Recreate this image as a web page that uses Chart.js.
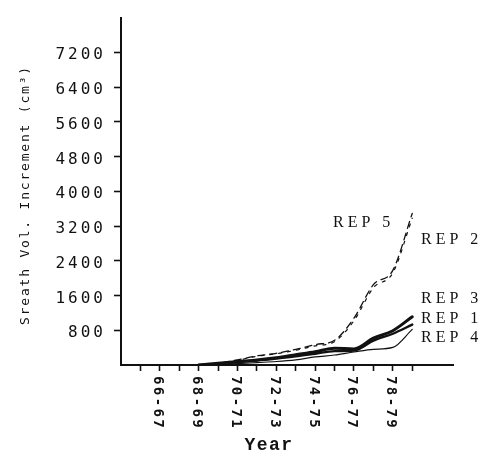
<!DOCTYPE html>
<html>
<head>
<meta charset="utf-8">
<script src="https://cdn.jsdelivr.net/npm/chart.js@4.4.0/dist/chart.umd.min.js"></script>
<style>
  html, body { margin: 0; padding: 0; background: #fff; }
  #wrap { width: 484px; height: 457px; }
</style>
</head>
<body>
<div id="wrap"><canvas id="sheathChart" width="484" height="457"></canvas></div>
<script>
// sheath volume increment per season, season keyed by its first year (68 = 68-69)
var years = [68, 69, 70, 71, 72, 73, 74, 75, 76, 77, 78, 79];
var rep1 = [0, 30, 70, 105, 150, 200, 260, 320, 330, 560, 720, 930];
var rep2 = [0, 35, 110, 200, 260, 340, 440, 540, 1020, 1780, 2120, 3380];
var rep3 = [0, 40, 80, 115, 165, 235, 305, 385, 370, 620, 790, 1110];
var rep4 = [0, 10, 30, 55, 80, 120, 185, 230, 300, 360, 405, 820];
var rep5 = [0, 40, 120, 210, 270, 360, 470, 570, 1080, 1850, 2180, 3490];

var seasons = ['66-67', '68-69', '70-71', '72-73', '74-75', '76-77', '78-79'];
var yTicks = [800, 1600, 2400, 3200, 4000, 4800, 5600, 6400, 7200];

var ink = '#111';

function pts(vals) {
  return years.map(function (yr, i) { return { x: yr, y: vals[i] }; });
}

function seasonOf(v) {
  for (var i = 0; i < seasons.length; i++) {
    if (parseInt(seasons[i], 10) === v) return seasons[i];
  }
  return '';
}

// hand lettering: spaced out tick text, rotated season labels, titles and REP tags
var lettering = {
  id: 'lettering',
  beforeDraw: function (chart) {
    chart.ctx.letterSpacing = '3px';
  },
  afterDraw: function (chart) {
    var ctx = chart.ctx;
    var xs = chart.scales.x;
    ctx.save();
    ctx.fillStyle = ink;

    ctx.font = 'bold 14px "DejaVu Sans Mono"';
    ctx.letterSpacing = '2.4px';
    ctx.textAlign = 'left';
    ctx.textBaseline = 'middle';
    xs.ticks.forEach(function (t) {
      var lab = seasonOf(t.value);
      if (!lab) return;
      ctx.save();
      ctx.translate(xs.getPixelForValue(t.value) - 2, xs.top + 11);
      ctx.rotate(Math.PI / 2);
      ctx.fillText(lab, 0, 0);
      ctx.restore();
    });

    ctx.font = 'bold 18px "Liberation Mono"';
    ctx.letterSpacing = '1.5px';
    ctx.textAlign = 'center';
    ctx.fillText('Year', 269, 445);

    ctx.save();
    ctx.font = '13px "DejaVu Sans Mono"';
    ctx.letterSpacing = '1.8px';
    ctx.translate(26, 195);
    ctx.rotate(-Math.PI / 2);
    ctx.fillText('Sreath Vol. Increment (cm\u00b3)', 0, 0);
    ctx.restore();

    ctx.font = '16px "Liberation Serif"';
    ctx.letterSpacing = '4px';
    ctx.textAlign = 'left';
    ctx.fillText('REP 5', 333, 223);
    ctx.fillText('REP 2', 421, 240);
    ctx.fillText('REP 3', 421, 299);
    ctx.fillText('REP 1', 421, 319);
    ctx.fillText('REP 4', 421, 338);

    ctx.restore();
    ctx.letterSpacing = '0px';
  }
};

new Chart(document.getElementById('sheathChart'), {
  type: 'line',
  data: {
    datasets: [
      { label: 'REP 4', data: pts(rep4), borderWidth: 1.2 },
      { label: 'REP 1', data: pts(rep1), borderWidth: 2.4 },
      { label: 'REP 3', data: pts(rep3), borderWidth: 3 },
      { label: 'REP 2', data: pts(rep2), borderWidth: 1.2, borderDash: [3, 6] },
      { label: 'REP 5', data: pts(rep5), borderWidth: 1.3, borderDash: [7, 5] }
    ]
  },
  options: {
    responsive: false,
    animation: false,
    devicePixelRatio: 1,
    layout: { padding: { top: 5, right: 31, left: 0, bottom: 0 } },
    plugins: { legend: { display: false }, tooltip: { enabled: false } },
    elements: {
      point: { radius: 0 },
      line: { borderColor: ink, fill: false, cubicInterpolationMode: 'monotone', borderCapStyle: 'round' }
    },
    scales: {
      x: {
        type: 'linear',
        min: 64,
        max: 81.1,
        border: { display: true, color: ink, width: 2 },
        grid: { drawOnChartArea: false, drawTicks: true, tickLength: 6, tickWidth: 1.6, tickColor: ink },
        ticks: {
          stepSize: 1,
          autoSkip: false,
          minRotation: 90,
          maxRotation: 90,
          color: 'rgba(0,0,0,0)',
          callback: function (v) { return seasonOf(v); }
        },
        afterBuildTicks: function (s) {
          s.ticks = s.ticks.filter(function (t) { return t.value >= 65 && t.value <= 79; });
        },
        afterFit: function (s) { s.height = 92; }
      },
      y: {
        min: 0,
        max: 8000,
        border: { display: true, color: ink, width: 2 },
        grid: { drawOnChartArea: false, drawTicks: true, tickLength: 7, tickWidth: 1.6, tickColor: ink },
        ticks: {
          color: ink,
          padding: 8,
          labelOffset: 3,
          font: { family: 'DejaVu Sans Mono', size: 16 },
          callback: function (v) { return String(v); }
        },
        afterBuildTicks: function (s) {
          s.ticks = yTicks.map(function (v) { return { value: v }; });
        },
        afterFit: function (s) { s.width = 121; }
      }
    }
  },
  plugins: [lettering]
});
</script>
</body>
</html>
